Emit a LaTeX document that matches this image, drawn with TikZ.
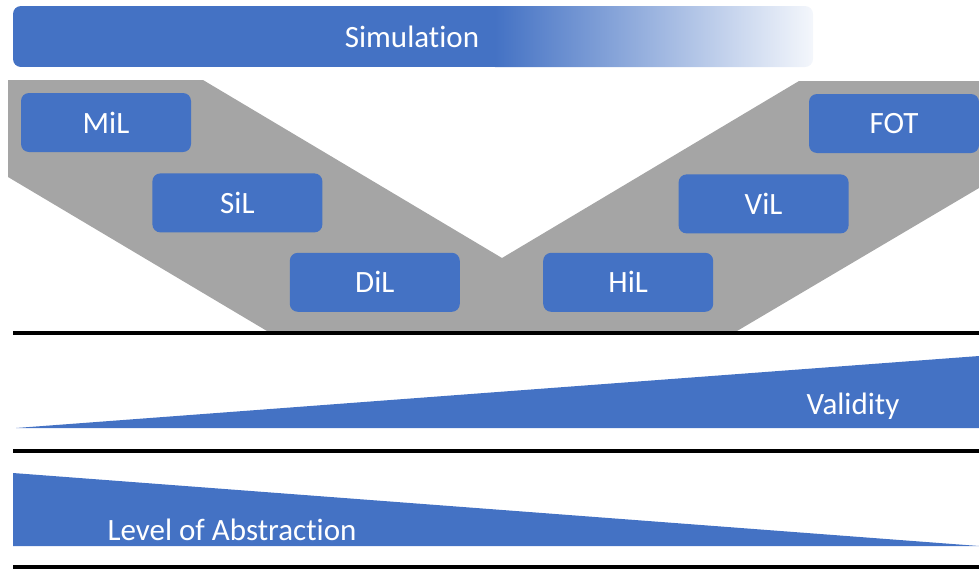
\documentclass[tikz,border=0pt]{standalone}
\usepackage{fontspec}
\setmainfont{Carlito}[Ligatures=NoCommon]
\usetikzlibrary{positioning}
\definecolor{xblue}{HTML}{4472C4}
\definecolor{xgrey}{HTML}{A5A5A5}
\tikzset{
  level/.style={rectangle, rounded corners=8pt, fill=xblue, text=white, minimum width=170pt, minimum height=59pt, font=\fontsize{31}{37}\selectfont},
  caption/.style={text=white, inner sep=0pt, font=\fontsize{31}{37}\selectfont},
  rule/.style={line width=4pt, black}
}

\begin{document}
\begin{tikzpicture}[x=1pt, y=-1pt]
			\useasboundingbox (0,0) rectangle (979,568);
			% Simulation bar
			\begin{scope}
				\clip[rounded corners=8pt] (13,6) rectangle (813,67);
				\fill[xblue] (13,6) rectangle (495,67);
				\shade[left color=xblue, right color=white!94!xblue] (495,6) rectangle (813,67);
			\end{scope}
			\node (sim) [caption] at (412,37) {Simulation};
			% Grey V
			\fill[xgrey] (8,80) -- (203,80) -- (502,258) -- (799,81) -- (979,81) -- (979,188) -- (737,331) -- (267,331) -- (8,177) -- cycle;
			% Levels
			\node (MiL) [level] at (106,122.5) {MiL};
			\node (SiL) [level, below right=21pt and -39pt of MiL] {SiL};
			\node (DiL) [level, below right=20pt and -33pt of SiL] {DiL};
			\node (HiL) [level, right=83pt of DiL] {HiL};
			\node (ViL) [level, above right=19pt and -35pt of HiL] {ViL};
			\node (FOT) [level, above right=21pt and -40pt of ViL] {FOT};
			% Rules
			\foreach \y in {333,451,567}
			{\draw[rule] (13,\y) -- (979,\y);}
			% Wedges
			\fill[xblue] (16,428) -- (979,356) -- (979,428) -- cycle;
			\node (val) [caption] at (853,406) {Validity};
			\fill[xblue] (13,473) -- (979,546) -- (13,546) -- cycle;
			\node (abs) [caption] at (232,530) {Level of Abstraction};
		\end{tikzpicture}
\end{document}
